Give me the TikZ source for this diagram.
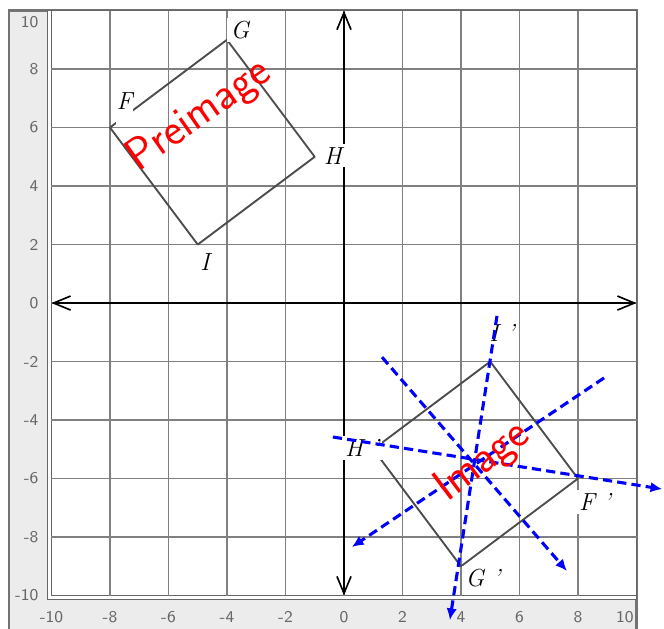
\documentclass[tikz,border=0pt]{standalone}
\usetikzlibrary{arrows.meta}
\begin{document}
\begin{tikzpicture}[x=0.5cm, y=0.5cm,
  gridln/.style={black!50, line width=0.6pt},
  axis/.style={black, line width=0.8pt,
               {Straight Barb[length=2.9mm,width=2.4mm]}-{Straight Barb[length=2.9mm,width=2.4mm]}},
  sqline/.style={black!70, line width=0.9pt, line join=round},
  vlbl/.style={font=\large\itshape, fill=white, inner sep=1.5pt},
  tick/.style={font=\fontsize{8}{9}\selectfont\sffamily, text=black!60},
  sym/.style={blue, line width=1.5pt, dash pattern=on 4.5pt off 2.5pt},
  symarr/.style={sym, -{Latex[length=2mm,width=1.8mm]}},
  note/.style={red, font=\fontsize{22}{24}\selectfont\sffamily}
]
  \useasboundingbox (-11.76,-11.11) rectangle (10.94,10.36);

  % Frame and plot area
  \fill[gray!15] (-11.45,-11.4) rectangle (10,10);
  \draw[black!55, line width=1pt] (-11.45,-11.4) -- (-11.45,10) -- (10,10) -- (10,-11.4);
  \filldraw[fill=white, draw=black!60, line width=0.8pt] (-10.14,-10.14) rectangle (10,10);
  \draw[black!60, line width=0.8pt] (-10,-10) rectangle (10,10);

  % Grid
  \foreach \k in {-8,-6,...,8} {
    \draw[gridln] (\k,-10) -- (\k,10);
    \draw[gridln] (-10,\k) -- (10,\k);
  }

  % Tick labels
  \foreach \k in {-10,-8,...,8} {
    \node[tick, anchor=east] at (-10.2,\k) {\k};
    \node[tick] at (\k,-10.74) {\k};
  }
  \node[tick, anchor=east] at (-10.2,9.6) {10};
  \node[tick] at (9.6,-10.74) {10};

  % Axes
  \draw[axis] (-10,0) -- (10,0);
  \draw[axis] (0,-10) -- (0,10);

  % Preimage FGHI
  \coordinate (F) at (-8,6);
  \coordinate (G) at (-4,9);
  \coordinate (H) at (-1,5);
  \coordinate (I) at (-5,2);
  \draw[sqline] (F) -- (G) -- (H) -- (I) -- cycle;

  % Image F'G'H'I'
  \coordinate (F') at (8,-6);
  \coordinate (G') at (4,-9);
  \coordinate (H') at (1,-5);
  \coordinate (I') at (5,-2);
  \draw[sqline] (F') -- (G') -- (H') -- (I') -- cycle;

  % Vertex labels
  \node[vlbl, inner xsep=0.4pt, text depth=0.2cm] (lF) at (-7.5,6.7) {F};
  \node[vlbl] (lG) at (-3.56,9.33) {G};
  \node[vlbl] (lH) at (-0.38,5.03) {H};
  \node[vlbl] (lI) at (-4.75,1.4) {I};
  \node[vlbl] (lF') at (8.58,-6.8) {F '};
  \node[vlbl] (lG') at (4.75,-9.4) {G '};
  \node[vlbl] (lH') at (0.62,-4.96) {H '};
  \node[vlbl] (lI') at (5.4,-1.03) {I '};

  % Lines through the centre of the image
  \coordinate (a1) at (5.23,-0.44);  \coordinate (a2) at (3.62,-10.84);
  \coordinate (b1) at (1.30,-1.85);  \coordinate (b2) at (7.62,-9.16);
  \coordinate (c1) at (8.89,-2.56);  \coordinate (c2) at (0.27,-8.34);
  \coordinate (d1) at (-0.38,-4.58); \coordinate (d2) at (10.88,-6.36);
  \draw[symarr] (a1) -- (a2);
  \draw[symarr] (b1) -- (b2);
  \draw[symarr] (c1) -- (c2);
  \draw[symarr] (d1) -- (d2);

  % Handwritten notes
  \node[note, rotate=35] (pre) at (-4.95,6.4) {Preimage};
  \node[note, rotate=37] (img) at (4.75,-5.43) {Image};
\end{tikzpicture}
\end{document}
